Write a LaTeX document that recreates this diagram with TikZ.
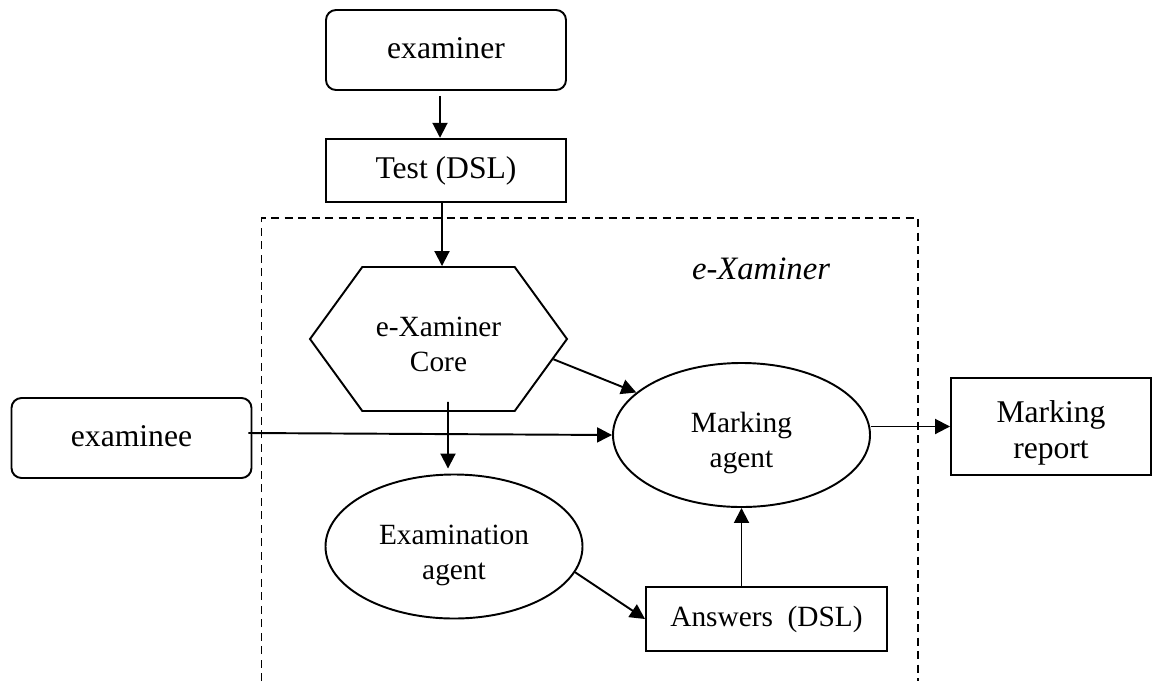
\documentclass[tikz,border=0pt]{standalone}
\usepackage{fontspec}
\setmainfont{Liberation Serif}
\usetikzlibrary{arrows.meta, positioning, shapes}

\begin{document}
\begin{tikzpicture}[
        line width=1.1pt,
        inner/.style={font=\fontsize{16.7}{19.9}\selectfont, align=center, inner sep=0pt, text height=38pt, text depth=0.6pt},
        outer/.style={font=\fontsize{18}{20.5}\selectfont, align=center, inner sep=0pt},
        actor/.style={outer, draw, rounded corners=0.2cm, minimum width=4.8cm, minimum height=1.6cm, text depth=2.5pt},
        doc/.style={draw, minimum width=4.8cm, minimum height=1.27cm},
        agent/.style={inner, draw, ellipse, minimum width=5.14cm, minimum height=2.88cm},
        flow/.style={-{Triangle[length=0.3cm, width=0.3cm]}}
    ]
        \useasboundingbox (0,0) rectangle (23.04,-13.62);

        \draw[line width=1pt, dash pattern=on 0.16cm off 0.11cm] (5.23,-13.62) |- (18.36,-4.36) -- (18.36,-13.62);
        \node[font=\fontsize{18.6}{22}\selectfont\itshape] (frame) at (15.22,-5.38) {e-Xaminer};

        \node[actor] (examiner) at (8.92,-1.0) {examiner};
        \node[doc, outer] (test) at (8.92,-3.41) {Test (DSL)};
        \node[inner, draw, signal, signal to=west and east, signal pointer angle=108,
              minimum width=5.14cm, minimum height=2.88cm] (core) at (8.77,-6.78) {e-Xaminer\\Core};
        \node[actor] (examinee) at (2.63,-8.76) {examinee};
        \node[agent] (marking) at (14.83,-8.70) {Marking\\agent};
        \node[agent] (exam) at (9.08,-10.93) {Examination\\agent};
        \node[doc, font=\fontsize{16.7}{19.9}\selectfont, inner sep=0pt, minimum width=4.82cm, minimum height=1.28cm] (answers) at (15.33,-12.38) {Answers\ \ (DSL)};
        \node[outer, draw, text height=37pt, text depth=0.8pt, minimum width=4.0cm, minimum height=1.94cm] (report) at (21.02,-8.53) {Marking\\report};

        \draw[flow] ([xshift=-0.12cm, yshift=-0.1cm]examiner.south) -- ([xshift=-0.12cm]test.north);
        \draw[flow] ([xshift=-0.08cm]test.south) -- ([xshift=0.07cm]core.north);
        \draw[flow] ([xshift=0.19cm, yshift=0.2cm]core.south) -- ([xshift=-0.12cm, yshift=0.1cm]exam.north);
        \draw[flow] (core.-10) -- (marking.158);
        \draw[flow] ([xshift=-0.08cm, yshift=0.1cm]examinee.east) -- (marking.west);
        \draw[flow] (report.west -| marking.east) -- (report.west);
        \draw[flow] (exam.-12) -- (answers.west);
        \draw[flow] (answers.north -| marking.south) -- (marking.south);
    \end{tikzpicture}
\end{document}
